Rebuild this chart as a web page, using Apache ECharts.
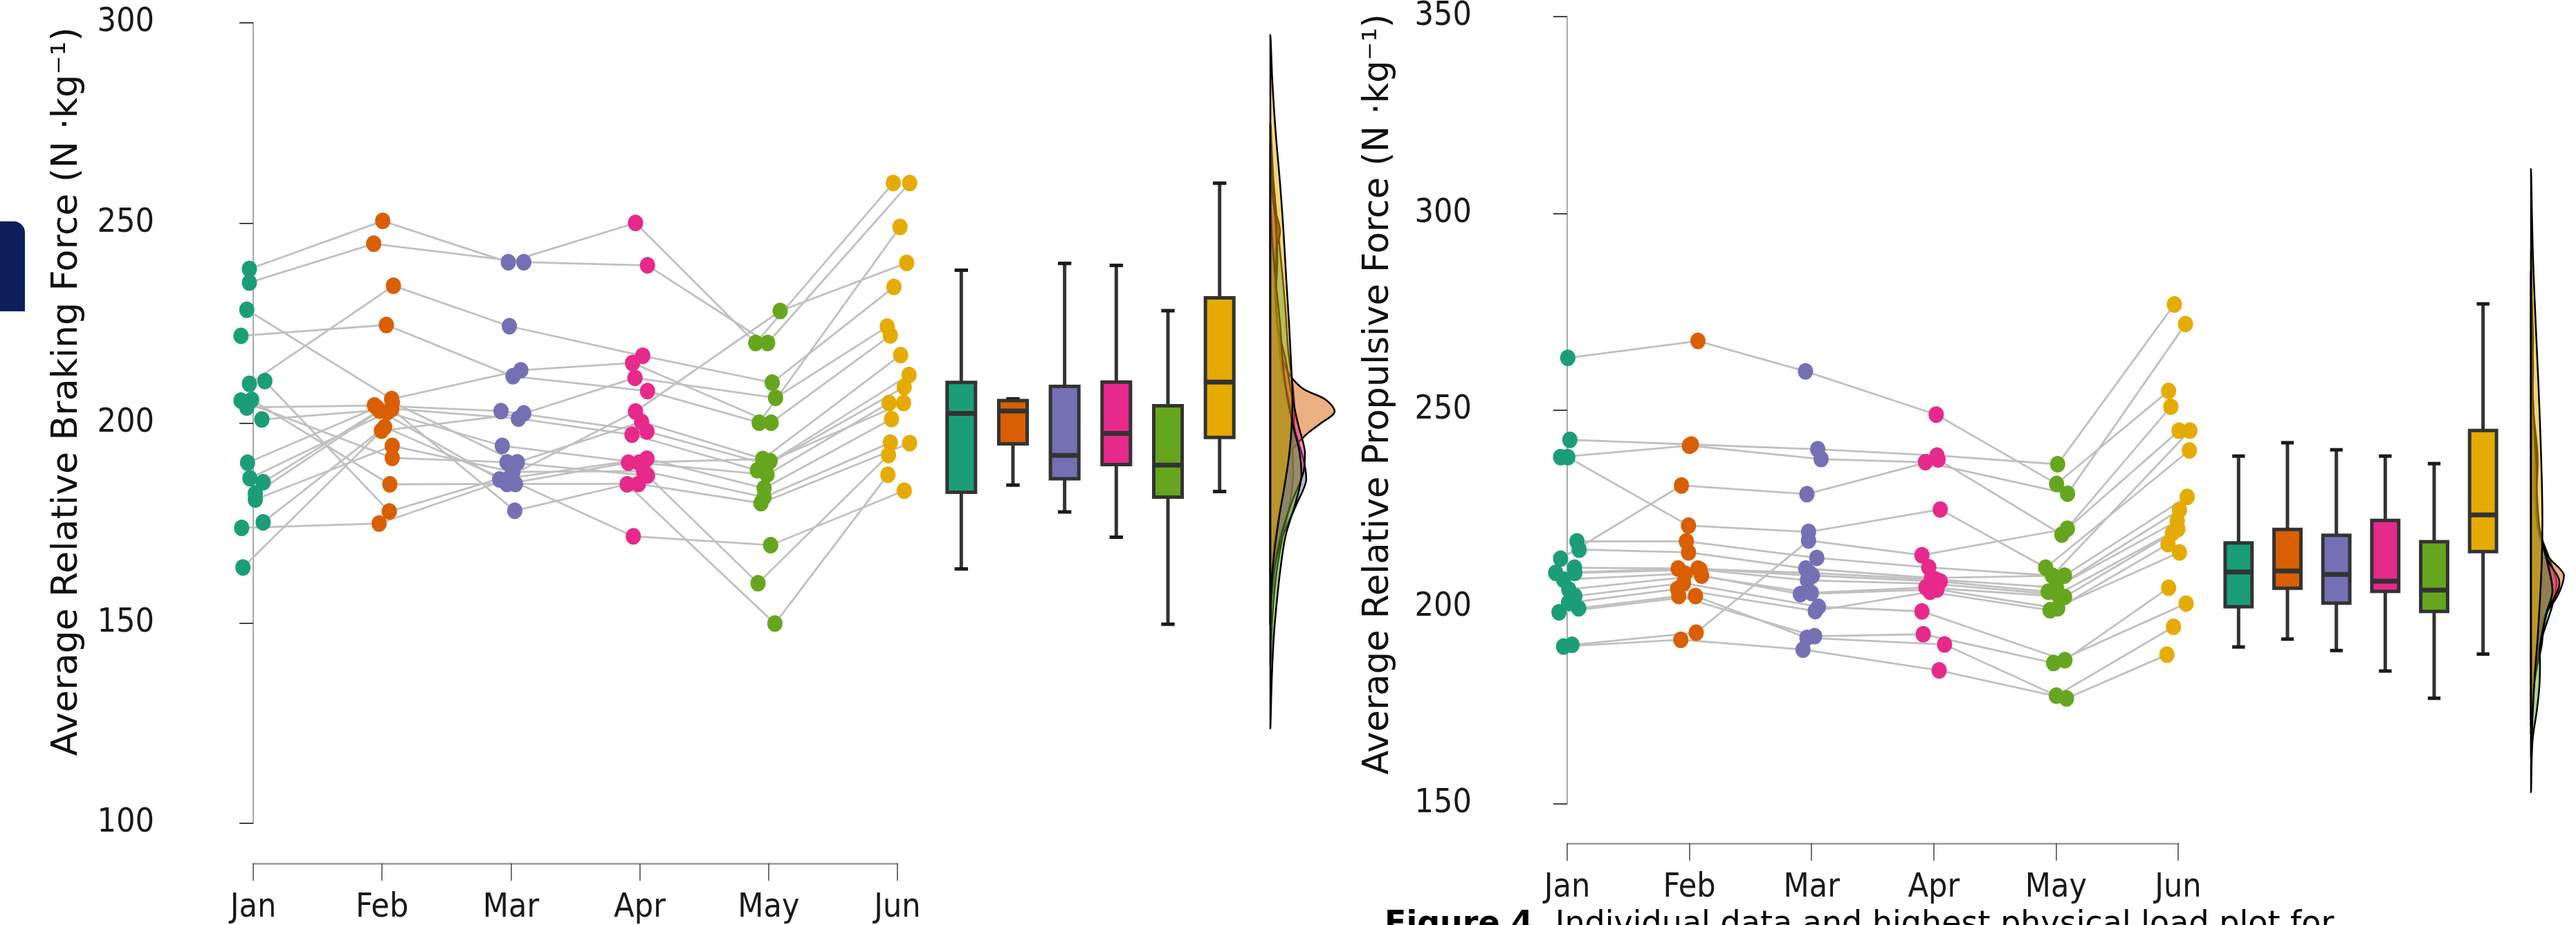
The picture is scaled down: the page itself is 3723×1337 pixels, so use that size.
<!DOCTYPE html>
<html>
<head>
<meta charset="utf-8">
<script src="https://cdn.jsdelivr.net/npm/echarts@6/dist/echarts.min.js"></script>
<style>
  html, body { margin: 0; padding: 0; background: #fff; }
  #chart { width: 3723px; height: 1337px; }
</style>
</head>
<body>
<div id="chart"></div>
<script>
// month labels and the Dark2 colours used for each month
const months = ['Jan', 'Feb', 'Mar', 'Apr', 'May', 'Jun'];
const monthColors = ['#1b9e77', '#d95f02', '#7570b3', '#e7298a', '#66a61e', '#e6ab02'];

// Average relative braking force, one entry per athlete (same athlete order each month)
const brakeJan = [238.5, 235.1, 221.8, 209.8, 228.3, 210.5, 173.8, 163.9, 200.9, 205.6, 205.8, 203.9, 190.1, 186.2, 185.2, 182.4, 180.9, 175.2];
const brakeFeb = [250.5, 244.8, 224.5, 234.3, 206.0, 177.9, 174.9, 198.1, 203.5, 191.3, 184.7, 204.4, 203.9, 202.7, 205.2, 203.1, 194.3, 199.0];
const brakeMar = [240.2, 240.2, 211.7, 224.2, 213.2, 187.0, 186.0, 202.4, 178.1, 190.2, 184.8, 203.0, 201.1, 194.3, 190.2, 185.9, 187.8, 184.8];
const brakeApr = [250.0, 239.4, 208.0, 216.8, 215.0, 202.9, 171.7, 211.3, 184.7, 186.9, 190.1, 197.9, 197.1, 190.1, 200.3, 191.1, 188.0, 184.8];
const brakeMay = [220.0, 220.0, 200.1, 210.1, 200.1, 228.0, 169.5, 206.3, 149.9, 160.0, 191.0, 189.7, 188.2, 187.1, 190.5, 183.7, 181.5, 180.0];
const brakeJun = [260.0, 260.0, 249.0, 234.0, 221.9, 240.0, 183.1, 224.1, 187.1, 192.0, 217.0, 212.0, 209.0, 205.0, 205.0, 201.0, 195.1, 195.0];

// horizontal jitter of each dot, in months
const brakeJitJan = [-0.03, -0.03, -0.095, -0.03, -0.05, 0.09, -0.09, -0.08, 0.067, -0.095, -0.012, -0.05, -0.044, -0.026, 0.077, 0.016, 0.016, 0.077];
const brakeJitFeb = [0.005, -0.065, 0.033, 0.088, 0.074, 0.056, -0.023, -0.005, 0.075, 0.079, 0.06, -0.06, -0.04, 0.04, 0.08, -0.02, 0.079, 0.02];
const brakeJitMar = [-0.02, 0.1, 0.016, -0.012, 0.077, 0.005, -0.02, 0.1, 0.03, -0.03, -0.03, -0.077, 0.058, -0.067, 0.05, -0.088, 0.016, 0.035];
const brakeJitApr = [-0.033, 0.06, 0.06, 0.023, -0.056, -0.033, -0.05, -0.037, -0.098, 0.06, -0.088, 0.056, -0.06, -0.005, 0.014, 0.056, 0.03, -0.01];
const brakeJitMay = [-0.1, -0.007, -0.073, 0.028, 0.02, 0.09, 0.016, 0.054, 0.049, -0.082, -0.045, -0.012, -0.087, -0.012, 0.012, -0.035, -0.035, -0.059];
const brakeJitJun = [-0.032, 0.095, 0.02, -0.027, -0.055, 0.072, 0.053, -0.079, -0.074, -0.069, 0.025, 0.09, 0.053, -0.065, 0.048, -0.046, -0.055, 0.095];

// Average relative propulsive force
const propJan = [263.3, 242.5, 238.1, 238.1, 212.3, 190.4, 190.0, 216.7, 214.6, 210.0, 208.7, 208.7, 207.0, 204.5, 202.8, 201.1, 199.7, 198.7];
const propFeb = [267.6, 241.3, 241.0, 220.7, 230.9, 193.5, 191.7, 216.7, 213.9, 209.8, 209.8, 209.5, 208.5, 208.0, 206.1, 204.6, 202.8, 202.8];
const propMar = [259.9, 240.1, 237.6, 219.1, 228.7, 216.9, 189.2, 212.5, 209.8, 208.7, 208.0, 206.8, 203.6, 203.3, 200.1, 199.0, 192.6, 192.2];
const propApr = [248.9, 238.5, 236.8, 224.8, 237.5, 213.2, 183.9, 210.1, 207.4, 207.0, 206.5, 205.9, 205.0, 204.5, 198.9, 203.9, 193.1, 190.5];
const propMay = [231.3, 236.3, 228.8, 210.0, 218.4, 219.9, 176.8, 208.0, 208.0, 205.0, 203.9, 203.2, 202.6, 199.7, 186.5, 199.2, 185.8, 177.5];
const propJun = [254.9, 276.9, 271.9, 239.8, 250.9, 244.8, 187.9, 244.8, 228.0, 224.7, 221.9, 219.8, 218.8, 216.0, 204.9, 213.9, 200.9, 195.0];

const propJitJan = [0.005, 0.022, -0.054, 0.005, -0.054, 0.04, -0.03, 0.08, 0.098, 0.06, -0.094, 0.063, -0.03, 0.013, 0.063, 0.01, 0.094, -0.067];
const propJitFeb = [0.07, 0.016, 0, -0.007, -0.065, 0.056, -0.07, -0.025, -0.007, -0.092, 0.07, 0.087, -0.036, 0.1, -0.047, -0.096, -0.087, 0.05];
const propJitMar = [-0.05, 0.05, 0.078, -0.025, -0.038, -0.025, -0.07, 0.043, -0.047, -0.016, 0.007, -0.034, -0.002, -0.092, 0.056, 0.03, 0.025, -0.038];
const propJitApr = [0.02, 0.026, -0.068, 0.053, 0.035, -0.097, 0.044, -0.041, -0.019, 0.015, 0.053, 0, -0.064, 0.026, -0.097, -0.03, -0.086, 0.088];
const propJitMay = [0.005, 0.014, 0.095, -0.084, 0.048, 0.093, 0.086, -0.03, 0.07, 0.003, -0.064, 0.014, 0.07, 0.014, 0.073, -0.048, -0.019, 0.003];
const propJitJun = [-0.078, -0.031, 0.06, 0.092, -0.06, 0.007, -0.092, 0.096, 0.074, 0.011, -0.007, -0.002, -0.047, -0.083, -0.078, 0.011, 0.065, -0.038];

// box plot summaries per month: [min, Q1, median, Q3, max]
const brakeBoxes = [
  [163.8, 182.9, 202.6, 210.3, 238.3],
  [184.7, 195.0, 203.2, 205.8, 206.2],
  [178.0, 186.3, 192.1, 209.3, 240.0],
  [171.7, 189.8, 197.6, 210.4, 239.5],
  [150.0, 181.7, 189.7, 204.5, 228.2],
  [183.1, 196.6, 210.4, 231.4, 260.0]
];
const propBoxes = [
  [189.8, 200.0, 208.8, 216.2, 238.2],
  [191.8, 204.7, 209.1, 219.6, 241.6],
  [188.9, 200.9, 208.2, 218.1, 239.8],
  [183.7, 203.9, 206.5, 221.9, 238.2],
  [176.8, 198.8, 204.2, 216.5, 236.3],
  [188.0, 214.0, 223.3, 244.7, 276.8]
];

// density profiles: [force, density]
const densBrakeJan = [[275, 0], [262, 4], [250, 10], [238, 17], [228, 22], [218, 26], [210, 32], [203, 35], [195, 32], [187, 33], [180, 28], [172, 18], [163, 9], [152, 3], [140, 0]];
const densBrakeFeb = [[262, 0], [255, 4], [248, 14], [242, 6], [232, 8], [222, 12], [214, 22], [209, 45], [206, 80], [203, 93], [200, 72], [197, 50], [193, 30], [187, 22], [180, 14], [172, 6], [162, 0]];
const densBrakeMar = [[270, 0], [258, 4], [247, 9], [240, 10], [232, 8], [222, 11], [213, 17], [205, 28], [198, 36], [191, 48], [186, 52], [180, 38], [172, 18], [164, 6], [155, 1], [150, 0]];
const densBrakeApr = [[275, 0], [258, 3], [250, 8], [243, 9], [235, 7], [225, 10], [216, 22], [208, 30], [200, 40], [193, 50], [188, 48], [180, 30], [172, 15], [165, 7], [155, 1], [150, 0]];
const densBrakeMay = [[255, 0], [245, 3], [235, 8], [225, 14], [215, 18], [207, 24], [200, 32], [193, 42], [187, 45], [180, 36], [172, 22], [163, 14], [155, 9], [147, 5], [136, 2], [124, 0]];
const densBrakeJun = [[297, 0], [285, 3], [272, 8], [260, 14], [248, 19], [236, 23], [225, 27], [215, 30], [207, 32], [200, 31], [192, 27], [184, 20], [176, 12], [167, 5], [158, 1], [150, 0]];

const densPropJan = [[285, 0], [272, 3], [263, 6], [252, 4], [240, 12], [230, 8], [220, 25], [212, 62], [206, 85], [200, 70], [193, 40], [186, 18], [178, 4], [170, 0]];
const densPropFeb = [[290, 0], [278, 3], [267, 7], [256, 3], [247, 8], [241, 14], [235, 10], [228, 12], [220, 28], [213, 55], [208, 110], [203, 90], [197, 40], [192, 30], [186, 12], [178, 2], [172, 0]];
const densPropMar = [[285, 0], [270, 4], [260, 7], [250, 5], [240, 14], [230, 14], [220, 25], [210, 60], [204, 70], [197, 45], [190, 35], [182, 12], [175, 2], [168, 0]];
const densPropApr = [[285, 0], [268, 3], [250, 8], [238, 22], [228, 18], [220, 22], [212, 55], [206, 95], [199, 55], [192, 35], [185, 20], [177, 5], [170, 0]];
const densPropMay = [[280, 0], [262, 3], [250, 8], [236, 18], [228, 20], [219, 30], [210, 58], [204, 72], [198, 50], [190, 30], [185, 30], [180, 28], [174, 20], [166, 5], [153, 0]];
const densPropJun = [[311, 0], [300, 3], [290, 6], [278, 12], [266, 19], [254, 26], [242, 32], [232, 36], [222, 38], [212, 36], [202, 30], [192, 22], [182, 12], [172, 5], [162, 0]];

const brakeValues = [brakeJan, brakeFeb, brakeMar, brakeApr, brakeMay, brakeJun];
const brakeJitter = [brakeJitJan, brakeJitFeb, brakeJitMar, brakeJitApr, brakeJitMay, brakeJitJun];
const propValues = [propJan, propFeb, propMar, propApr, propMay, propJun];
const propJitter = [propJitJan, propJitFeb, propJitMar, propJitApr, propJitMay, propJitJun];
const brakeDens = [densBrakeJan, densBrakeFeb, densBrakeMar, densBrakeApr, densBrakeMay, densBrakeJun];
const propDens = [densPropJan, densPropFeb, densPropMar, densPropApr, densPropMay, densPropJun];

const tickFont = "'DejaVu Sans Condensed', 'Liberation Sans Narrow', sans-serif";
const titleFont = "'DejaVu Sans', sans-serif";

const chart = echarts.init(document.getElementById('chart'));

function pointsAxes(grid, yMin, yMax, yOffset, xOffset) {
  const x = {
    gridIndex: grid, type: 'value', min: 0, max: 5, interval: 1, offset: xOffset,
    axisLine: { show: true, lineStyle: { color: '#9a9a9a', width: 2.5 } },
    axisTick: { show: true, length: 25, lineStyle: { color: '#444', width: 1.5 } },
    axisLabel: { formatter: v => months[v] || '', fontFamily: tickFont, fontSize: 48, color: '#1a1a1a', margin: 41 },
    splitLine: { show: false }
  };
  const y = {
    gridIndex: grid, type: 'value', min: yMin, max: yMax, interval: 50, offset: yOffset,
    axisLine: { show: true, lineStyle: { color: '#8c8c8c', width: 1.5 } },
    axisTick: { show: true, length: 20, lineStyle: { color: '#444', width: 2 } },
    axisLabel: { fontFamily: tickFont, fontSize: 48, color: '#1a1a1a', margin: 45 },
    splitLine: { show: false }
  };
  return [x, y];
}

function hiddenAxes(grid, xType, xMax, yMin, yMax) {
  const x = xType === 'category'
    ? { gridIndex: grid, type: 'category', data: months, show: false }
    : { gridIndex: grid, type: 'value', min: 0, max: xMax, show: false };
  const y = { gridIndex: grid, type: 'value', min: yMin, max: yMax, show: false };
  return [x, y];
}

function panelSeries(values, jitter, boxes, dens, base) {
  const out = [];
  const nSub = values[0].length;
  const paths = [];
  for (let i = 0; i < nSub; i++) {
    paths.push({ coords: months.map((m, k) => [k + jitter[k][i], values[k][i]]) });
  }
  out.push({
    type: 'lines', coordinateSystem: 'cartesian2d', xAxisIndex: base, yAxisIndex: base,
    polyline: true, clip: false, silent: true, z: 2,
    lineStyle: { color: '#c0c0c0', width: 2.8, opacity: 1 },
    data: paths
  });
  months.forEach((m, k) => {
    out.push({
      type: 'scatter', name: m, xAxisIndex: base, yAxisIndex: base, clip: false, z: 4,
      symbol: 'circle', symbolSize: [22, 24],
      itemStyle: { color: monthColors[k], opacity: 1 },
      data: values[k].map((v, i) => [k + jitter[k][i], v])
    });
  });
  out.push({
    type: 'custom', xAxisIndex: base + 1, yAxisIndex: base + 1, z: 3, clip: false,
    encode: { x: 0, y: [1, 2, 3, 4, 5] },
    data: boxes.map((b, i) => [i].concat(b)),
    renderItem(params, api) {
      const i = api.value(0);
      const band = api.size([1, 0])[0];
      const half = band * 0.275, cap = band * 0.13;
      const pMin = api.coord([i, api.value(1)]);
      const pQ1 = api.coord([i, api.value(2)]);
      const pMed = api.coord([i, api.value(3)]);
      const pQ3 = api.coord([i, api.value(4)]);
      const pMax = api.coord([i, api.value(5)]);
      const cx = pMin[0];
      const line = { stroke: '#333', lineWidth: 5 };
      const capStyle = { stroke: '#1a1a1a', lineWidth: 5 };
      return {
        type: 'group',
        children: [
          { type: 'line', shape: { x1: cx, y1: pMax[1], x2: cx, y2: pQ3[1] }, style: line },
          { type: 'line', shape: { x1: cx, y1: pQ1[1], x2: cx, y2: pMin[1] }, style: line },
          { type: 'line', shape: { x1: cx - cap, y1: pMax[1], x2: cx + cap, y2: pMax[1] }, style: capStyle },
          { type: 'line', shape: { x1: cx - cap, y1: pMin[1], x2: cx + cap, y2: pMin[1] }, style: capStyle },
          { type: 'rect', shape: { x: cx - half, y: pQ3[1], width: half * 2, height: pQ1[1] - pQ3[1] },
            style: { fill: monthColors[i], stroke: '#333', lineWidth: 5 } },
          { type: 'line', shape: { x1: cx - half, y1: pMed[1], x2: cx + half, y2: pMed[1] },
            style: { stroke: '#333', lineWidth: 7 } }
        ]
      };
    }
  });
  dens.forEach((profile, k) => {
    out.push({
      type: 'custom', xAxisIndex: base + 2, yAxisIndex: base + 2, z: 3, clip: false,
      data: profile.map(d => [d[1], d[0]]),
      renderItem(params, api) {
        if (params.dataIndex !== 0) return null;
        const n = params.dataInsideLength;
        const outer = [], inner = [];
        for (let j = 0; j < n; j++) {
          outer.push(api.coord([api.value(0, j), api.value(1, j)]));
        }
        for (let j = n - 2; j >= 1; j--) {
          inner.push(api.coord([0, api.value(1, j)]));
        }
        const pts = outer.concat(inner);
        const xs = pts.map(p => p[0]), ys = pts.map(p => p[1]);
        const box = [[Math.min(...xs), Math.min(...ys)], [Math.max(...xs), Math.max(...ys)]];
        return {
          type: 'polygon',
          shape: { points: pts, smooth: 0.35, smoothConstraint: box },
          style: { fill: echarts.color.modifyAlpha(monthColors[k], 0.5), stroke: '#000', lineWidth: 2.5 }
        };
      }
    });
  });
  return out;
}

const [lx, ly] = pointsAxes(0, 100, 300, 98, 58);
const [lbx, lby] = hiddenAxes(1, 'category', 0, 100, 300);
const [ldx, ldy] = hiddenAxes(2, 'value', 150, 100, 300);
const [rx, ry] = pointsAxes(3, 150, 350, 93, 57);
const [rbx, rby] = hiddenAxes(4, 'category', 0, 150, 350);
const [rdx, rdy] = hiddenAxes(5, 'value', 150, 150, 350);

const option = {
  animation: false,
  backgroundColor: '#ffffff',
  grid: [
    { left: 366, top: 33, width: 931, height: 1159 },
    { left: 1352, top: 33, width: 448, height: 1159 },
    { left: 1836, top: 33, width: 150, height: 1159 },
    { left: 2265, top: 22, width: 883, height: 1140 },
    { left: 3200, top: 22, width: 424, height: 1140 },
    { left: 3658, top: 22, width: 150, height: 1140 }
  ],
  xAxis: [lx, lbx, ldx, rx, rbx, rdx],
  yAxis: [ly, lby, ldy, ry, rby, rdy],
  graphic: [
    { type: 'rect', left: 0, top: 320, shape: { width: 36, height: 130, r: [0, 16, 0, 0] },
      style: { fill: '#0c1f5c' } },
    { type: 'text', x: 97, y: 566, rotation: Math.PI / 2,
      style: { text: 'Average Relative Braking Force (N \u00b7kg\u207b\u00b9)', font: '52px ' + titleFont,
        fill: '#111', align: 'center', verticalAlign: 'middle', textAlign: 'center', textVerticalAlign: 'middle' } },
    { type: 'text', x: 1993, y: 570, rotation: Math.PI / 2,
      style: { text: 'Average Relative Propulsive Force (N \u00b7kg\u207b\u00b9)', font: '51px ' + titleFont,
        fill: '#111', align: 'center', verticalAlign: 'middle', textAlign: 'center', textVerticalAlign: 'middle' } },
    { type: 'text', x: 2001, y: 1314,
      style: { text: '{b|Figure 4.} Individual data and highest physical load plot for',
        font: '46px ' + titleFont, fill: '#000', align: 'left', verticalAlign: 'top',
        textAlign: 'left', textVerticalAlign: 'top',
        rich: { b: { fontWeight: 'bold', fontSize: 46, fontFamily: titleFont, fill: '#000' } } } }
  ],
  series: panelSeries(brakeValues, brakeJitter, brakeBoxes, brakeDens, 0)
    .concat(panelSeries(propValues, propJitter, propBoxes, propDens, 3))
};

chart.setOption(option);
</script>
</body>
</html>
